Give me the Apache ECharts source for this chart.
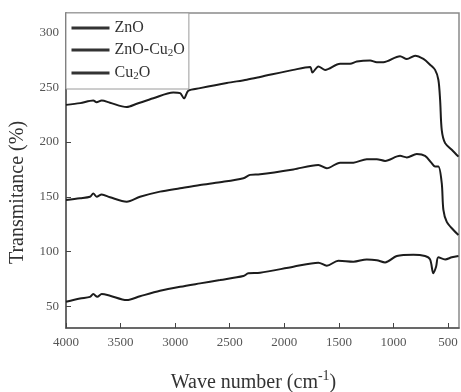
<!DOCTYPE html>
<html>
<head>
<meta charset="utf-8">
<script src="https://cdn.jsdelivr.net/npm/echarts@6/dist/echarts.min.js"></script>
<style>html,body{margin:0;padding:0;background:#fff}#c{width:461px;height:392px}</style>
</head>
<body>
<div id="c"></div>
<script>
var seriesNames = ['ZnO', 'ZnO-Cu2O', 'Cu2O'];
var xTicks = [4000, 3500, 3000, 2500, 2000, 1500, 1000, 500];
var yTicks = [50, 100, 150, 200, 250, 300];

var znO = [[4000,234],[3870,235.6],[3750,238],[3720,236.5],[3673,238],[3597,236],[3444,232],[3352,235],[3200,240],[3017,245.3],[2955,244.7],[2919,240],[2879,247],[2772,249.3],[2527,254],[2344,257],[2222,259.5],[1917,266],[1764,268.6],[1743,263.7],[1688,269.2],[1627,266],[1489,271.6],[1398,271.6],[1336,273.7],[1214,274.6],[1153,273],[1093,273],[940,278.5],[878,276],[802,279],[726,276],[665,270.7],[619,266],[589,257],[573,238.6],[558,211],[527,199],[466,193],[405,186.7]];

var znOCu2O = [[4000,147],[3872,148.6],[3780,150],[3750,153],[3719,150],[3673,152],[3597,149.5],[3444,145.5],[3322,150],[3139,154.7],[2955,157.8],[2772,160.8],[2589,163.3],[2375,167],[2314,170],[2222,170.5],[1917,175],[1688,179],[1611,176],[1489,181.2],[1367,181.2],[1245,184.3],[1153,184.3],[1077,182.8],[940,187.4],[878,186],[787,189],[711,187.4],[650,180.7],[619,177.6],[589,177.6],[558,162.4],[543,138],[512,127],[451,119.6],[405,115]];

var cu2O = [[4000,54],[3872,57],[3780,58.5],[3750,61],[3713,58.5],[3673,61],[3597,59.5],[3444,55.5],[3322,59],[3139,64],[2955,67.7],[2772,70.8],[2589,73.8],[2375,77.5],[2330,80],[2222,80.5],[1917,86],[1688,89.7],[1611,87],[1505,91.5],[1367,90.6],[1245,92.7],[1153,92],[1077,90],[970,95.8],[818,97],[711,95.8],[665,92.7],[635,80],[610,86],[589,94.6],[527,92.7],[466,94.6],[405,95.8]];

var serif = '"Liberation Serif", "DejaVu Serif", serif';
var chart = echarts.init(document.getElementById('c'));

function mk(name, data) {
  return {
    name: name, type: 'line', data: data, symbol: 'none', smooth: 0.3,
    lineStyle: { color: '#1c1c1c', width: 2 }, itemStyle: { color: '#1c1c1c' },
    animation: false
  };
}
function plain(v) { return String(v); }

chart.setOption({
  animation: false,
  grid: { left: 66, right: 2, top: 13, bottom: 64, outerBoundsMode: 'none', containLabel: false,
          show: true, borderColor: '#8a8a8a', borderWidth: 1.5 },
  legend: {
    orient: 'vertical', left: 66, top: 13,
    borderColor: '#9a9a9a', borderWidth: 1, backgroundColor: '#fff',
    padding: [7, 4, 7, 4], itemGap: 6, itemWidth: 38, itemHeight: 14,
    data: seriesNames,
    formatter: function (n) {
      if (n === 'ZnO') return '{a|ZnO}';
      if (n === 'ZnO-Cu2O') return '{a|ZnO-Cu}{s|2}{a|O}';
      return '{a|Cu}{s|2}{a|O}';
    },
    textStyle: {
      fontFamily: serif, color: '#333',
      rich: {
        a: { fontFamily: serif, fontSize: 16, color: '#333' },
        s: { fontFamily: serif, fontSize: 11, color: '#333', verticalAlign: 'bottom', padding: [7, 0, 0, 0] }
      }
    },
    itemStyle: { opacity: 0 },
    lineStyle: { width: 3, color: '#333' }
  },
  xAxis: {
    type: 'value', inverse: true, min: 400, max: 4000,
    axisLine: { show: true, lineStyle: { color: '#555', width: 1.5 } },
    axisTick: { show: true, inside: true, length: 5, customValues: xTicks, lineStyle: { color: '#444' } },
    axisLabel: { customValues: xTicks, formatter: plain, fontFamily: serif, fontSize: 13, color: '#555', margin: 8 },
    splitLine: { show: false },
    name: '{a|Wave number (cm}{s|-1}{a|)}',
    nameLocation: 'middle', nameGap: 41,
    nameTextStyle: {
      padding: [0, 18, 0, 0],
      rich: {
        a: { fontFamily: serif, fontSize: 20, color: '#333', verticalAlign: 'bottom' },
        s: { fontFamily: serif, fontSize: 14, color: '#333', verticalAlign: 'top', padding: [0, 0, 10, 0] }
      }
    }
  },
  yAxis: {
    type: 'value', min: 30, max: 318,
    axisLine: { show: true, lineStyle: { color: '#555', width: 1.5 } },
    axisTick: { show: true, inside: true, length: 5, customValues: yTicks, lineStyle: { color: '#444' } },
    axisLabel: { customValues: yTicks, formatter: plain, fontFamily: serif, fontSize: 13, color: '#555', margin: 7 },
    splitLine: { show: false },
    name: 'Transmitance (%)', nameLocation: 'middle', nameGap: 38,
    nameTextStyle: { fontFamily: serif, fontSize: 20, color: '#333', padding: [0, 44, 0, 0] }
  },
  series: [mk(seriesNames[0], znO), mk(seriesNames[1], znOCu2O), mk(seriesNames[2], cu2O)]
});
</script>
</body>
</html>
